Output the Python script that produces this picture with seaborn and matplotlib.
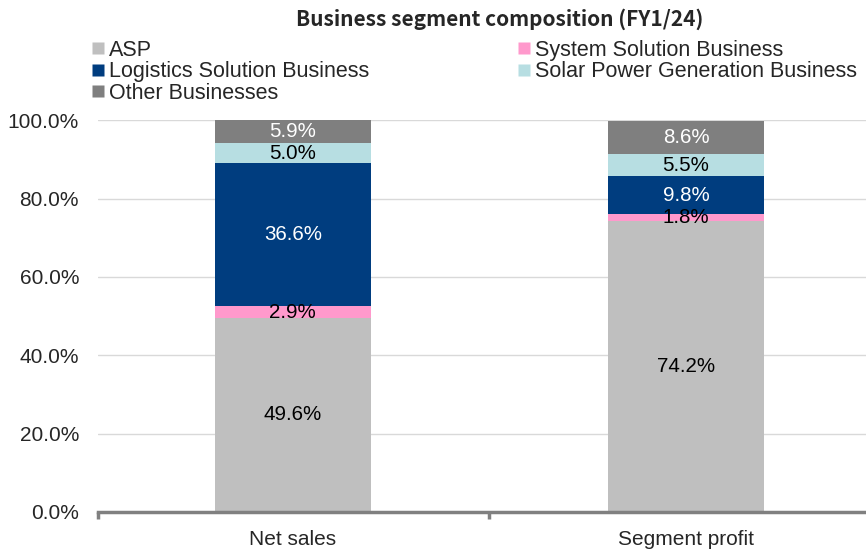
import matplotlib
matplotlib.use("Agg")
import matplotlib.pyplot as plt
from matplotlib.lines import Line2D
import seaborn as sns
import pandas as pd
import numpy as np

categories = ["Net sales", "Segment profit"]
segments = ["ASP", "System Solution Business", "Logistics Solution Business",
            "Solar Power Generation Business", "Other Businesses"]
asp = [49.6, 74.2]
system_solution = [2.9, 1.8]
logistics = [36.6, 9.8]
solar = [5.0, 5.5]
other = [5.9, 8.6]
colors = ["#BFBFBF", "#FF99CC", "#003D7F", "#B7DEE2", "#7F7F7F"]
label_colors = ["black", "black", "white", "black", "white"]
yticks = [0, 20, 40, 60, 80, 100]

sns.set_theme(style="white")
plt.rcParams['font.family'] = ['Liberation Sans', 'DejaVu Sans']

values = np.array([asp, system_solution, logistics, solar, other])
cum = values.cumsum(axis=0)

fig = plt.figure(figsize=(8.66, 5.49), dpi=100)
ax = fig.add_axes([0.113, 0.0674, 0.887, 0.7135])

# draw cumulative bars from top down
for i in range(len(segments) - 1, -1, -1):
    top = np.minimum(cum[i], 100.0)
    df = pd.DataFrame({"cat": categories, "val": top})
    sns.barplot(data=df, x="cat", y="val", color=colors[i], width=0.397,
                saturation=1, ax=ax, zorder=2, edgecolor="none", linewidth=0)

for i in range(len(segments)):
    for j in range(len(categories)):
        base = cum[i][j] - values[i][j]
        ax.text(j, base + values[i][j] / 2, f"{values[i][j]:.1f}%", ha="center",
                va="center", fontsize=14.8, color=label_colors[i], zorder=5)

ax.set_ylim(0, 100)
ax.set_xlim(-0.496, 1.458)
ax.set_yticks(yticks)
ax.set_yticklabels([f"{v:.1f}%" for v in yticks], fontsize=15)
ax.tick_params(axis="y", length=0, pad=13.5)
ax.tick_params(axis="x", which="major", length=0, labelsize=15, pad=13)
ax.set_xticks([-0.496, 0.5], minor=True)
ax.tick_params(axis="x", which="minor", bottom=True, length=5, width=2.5,
               color="#808080", direction="out")
ax.yaxis.grid(True, color="#D9D9D9", linewidth=1, zorder=0)
ax.set_axisbelow(True)
ax.set_xlabel("")
ax.set_ylabel("")
for s in ["top", "right", "left"]:
    ax.spines[s].set_visible(False)
ax.spines["bottom"].set_color("#808080")
ax.spines["bottom"].set_linewidth(2.5)
ax.spines["bottom"].set_zorder(6)

handles = [Line2D([0], [0], marker="s", linestyle="none", markersize=9,
                  markerfacecolor=colors[i], markeredgecolor="none", label=segments[i])
           for i in [0, 2, 4, 1, 3]]
fig.legend(handles=handles, ncol=2, loc="upper left", bbox_to_anchor=(0.106, 0.928),
           frameon=False, fontsize=15.5, handlelength=0.6, handletextpad=0.2,
           labelspacing=0.03, columnspacing=6.9, borderaxespad=0, borderpad=0)

fig.text(0.577, 0.965, "Business segment composition (FY1/24)", ha="center", va="center",
         fontsize=15, fontweight="bold", family=["Noto Sans CJK JP", "DejaVu Sans"])

fig.savefig("out.png", dpi=100)
